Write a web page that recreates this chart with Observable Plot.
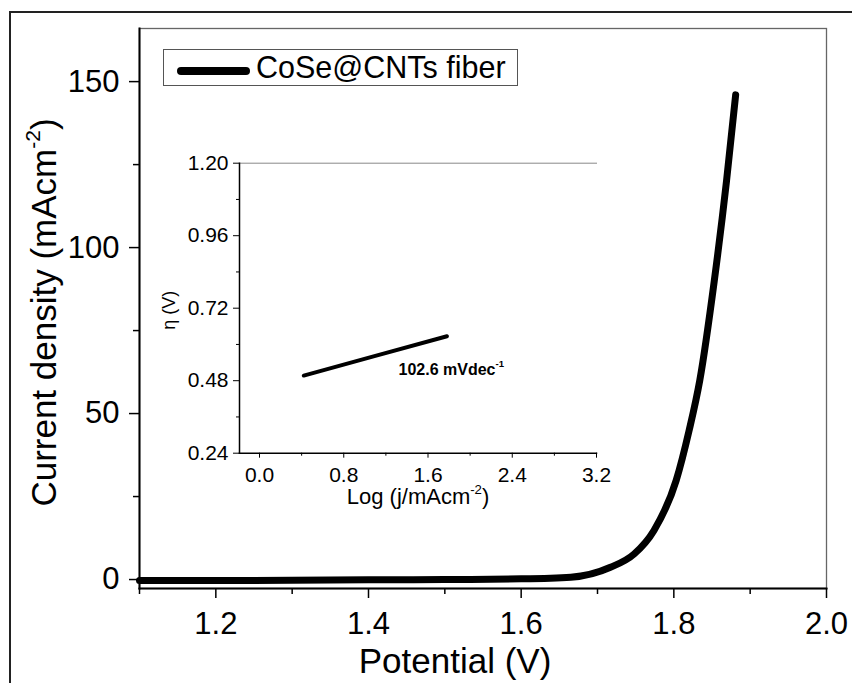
<!DOCTYPE html>
<html>
<head>
<meta charset="utf-8">
<script src="https://cdn.jsdelivr.net/npm/d3@7"></script>
<script src="https://cdn.jsdelivr.net/npm/@observablehq/plot@0.6"></script>
<style>
  html, body { margin: 0; padding: 0; background: #fff; }
  #wrap { position: relative; width: 852px; height: 683px; overflow: hidden; font-family: "Liberation Sans", Arial, sans-serif; }
  #wrap svg { position: absolute; left: 0; top: 0; }
  #border { position: absolute; left: 9px; top: 11px; width: 900px; height: 700px; border-left: 2px solid #222; border-top: 2px solid #222; pointer-events: none; }
  #legend { position: absolute; left: 163px; top: 49px; width: 353px; height: 35px; border: 1.3px solid #555; background: #fff; }
  #legend .swatch { position: absolute; left: 13px; top: 17px; width: 73px; height: 8px; background: #000; border-radius: 4px; }
  #legend .lab { position: absolute; left: 92px; top: 0px; font-size: 30.5px; line-height: 35px; color: #000; white-space: nowrap; }
</style>
</head>
<body>
<div id="wrap">
  <div id="border"></div>
</div>
<script>
// ---- main LSV curve (Potential V vs current density mA cm^-2)
const potential = [1.10, 1.20, 1.30, 1.40, 1.50, 1.60, 1.665, 1.717, 1.748, 1.774, 1.803, 1.820, 1.834, 1.853, 1.869, 1.881];
const current   = [-0.3, -0.3, -0.2, -0.1, 0.0, 0.2, 0.7, 3.7, 7.7, 14.8, 29.8, 44.9, 60, 90, 120, 146];
const mainXTicks = [1.2, 1.4, 1.6, 1.8, 2.0];
const mainXMinor = [1.1, 1.3, 1.5, 1.7, 1.9];
const mainYTicks = [0, 50, 100, 150];
const mainYMinor = [25, 75, 125];
const seriesName = "CoSe@CNTs fiber";

// ---- inset Tafel plot
const logJ = [0.42, 1.10, 1.78];
const eta  = [0.497, 0.562, 0.627];
const insetXTicks = [0.0, 0.8, 1.6, 2.4, 3.2];
const insetXMinor = [0.4, 1.2, 2.0, 2.8];
const insetYTicks = [0.24, 0.48, 0.72, 0.96, 1.20];
const insetYMinor = [0.36, 0.60, 0.84, 1.08];
const tafelLabel = "102.6 mVdec⁻¹";
const tafelLabelPos = {x: 1.32, y: 0.50};

const curve = potential.map((p, i) => ({x: p, y: current[i]}));
const tafel = logJ.map((l, i) => ({x: l, y: eta[i]}));

const FONT = "'Liberation Sans', Arial, sans-serif";

const main = Plot.plot({
  width: 852, height: 683,
  marginLeft: 139, marginRight: 26, marginTop: 28, marginBottom: 95,
  style: {fontFamily: FONT, background: "transparent", color: "#000"},
  x: {domain: [1.1, 2.0]},
  y: {domain: [-2.7, 166]},
  marks: [
    Plot.frame({stroke: "#666", strokeWidth: 1.3}),
    Plot.line(curve, {x: "x", y: "y", stroke: "#000", strokeWidth: 7, curve: "monotone-x", strokeLinecap: "round", strokeLinejoin: "round"}),
    Plot.frame({anchor: "left", stroke: "#000", strokeWidth: 2}),
    Plot.frame({anchor: "bottom", stroke: "#000", strokeWidth: 2}),
    Plot.axisX({ticks: mainXTicks, tickSize: 10, tickPadding: 13, tickFormat: d3.format(".1f"), fontSize: 31, label: null, strokeWidth: 1.5}),
    Plot.axisX({ticks: mainXMinor, tickSize: 6, fill: "none", label: null, strokeWidth: 1.5}),
    Plot.axisY({ticks: mainYTicks, tickSize: 10, tickPadding: 10, fontSize: 31, label: null, strokeWidth: 1.5}),
    Plot.axisY({ticks: mainYMinor, tickSize: 6, fill: "none", label: null, strokeWidth: 1.5}),
    Plot.text(["Potential (V)"], {frameAnchor: "bottom", dx: -28, dy: 84, lineAnchor: "bottom", textAnchor: "middle", fontSize: 35, fill: "#000"}),
    Plot.text(["Current density (mAcm⁻²)"], {frameAnchor: "left", rotate: -90, dx: -95, dy: 4, textAnchor: "middle", lineAnchor: "middle", fontSize: 35, fill: "#000"})
  ]
});

const inset = Plot.plot({
  width: 852, height: 683,
  marginLeft: 239, marginRight: 256, marginTop: 162.7, marginBottom: 230.3,
  style: {fontFamily: FONT, background: "transparent", color: "#000"},
  x: {domain: [-0.19, 3.2]},
  y: {domain: [0.24, 1.20]},
  marks: [
    Plot.frame({anchor: "top", stroke: "#888", strokeWidth: 1}),
    Plot.line(tafel, {x: "x", y: "y", stroke: "#000", strokeWidth: 4, strokeLinecap: "round"}),
    Plot.text([tafelLabel], {x: () => tafelLabelPos.x, y: () => tafelLabelPos.y, textAnchor: "start", lineAnchor: "bottom", fontSize: 16, fontWeight: "bold", fill: "#000"}),
    Plot.frame({anchor: "left", stroke: "#000", strokeWidth: 1.5}),
    Plot.frame({anchor: "bottom", stroke: "#000", strokeWidth: 1.5}),
    Plot.axisX({ticks: insetXTicks, tickSize: 5, tickPadding: 9, tickFormat: d3.format(".1f"), fontSize: 21, label: null}),
    Plot.axisX({ticks: insetXMinor, tickSize: 3, fill: "none", label: null}),
    Plot.axisY({ticks: insetYTicks, tickSize: 6, tickPadding: 5, tickFormat: d3.format(".2f"), fontSize: 21, label: null}),
    Plot.axisY({ticks: insetYMinor, tickSize: 3, fill: "none", label: null}),
    Plot.text(["Log (j/mAcm⁻²)"], {frameAnchor: "bottom", dy: 51, lineAnchor: "bottom", textAnchor: "middle", fontSize: 22, fill: "#000"}),
    Plot.text(["η (V)"], {frameAnchor: "left", rotate: -90, dx: -70, dy: 2, textAnchor: "middle", lineAnchor: "middle", fontSize: 18, fill: "#000"})
  ]
});

// superscript rendering for "⁻²" / "⁻¹"
function superscripts(svg) {
  svg.querySelectorAll("text").forEach(t => {
    const s = t.textContent;
    const m = s.match(/⁻([¹²])/);
    if (!m || t.children.length) return;
    const idx = m.index;
    const before = s.slice(0, idx), after = s.slice(idx + 2);
    const sup = "-" + (m[1] === "²" ? "2" : "1");
    const ns = "http://www.w3.org/2000/svg";
    while (t.firstChild) t.removeChild(t.firstChild);
    const a = document.createElementNS(ns, "tspan"); a.textContent = before; t.appendChild(a);
    const b = document.createElementNS(ns, "tspan"); b.textContent = sup;
    b.setAttribute("font-size", "60%"); b.setAttribute("dy", "-0.75em"); t.appendChild(b);
    if (after) {
      const c = document.createElementNS(ns, "tspan"); c.textContent = after;
      c.setAttribute("dy", "0.45em"); t.appendChild(c);
    }
  });
}
superscripts(main);
superscripts(inset);

const wrap = document.getElementById("wrap");
wrap.insertBefore(main, wrap.firstChild);
wrap.appendChild(inset);

const legend = document.createElement("div");
legend.id = "legend";
legend.innerHTML = '<div class="swatch"></div><div class="lab"></div>';
legend.querySelector(".lab").textContent = seriesName;
wrap.appendChild(legend);
</script>
</body>
</html>
